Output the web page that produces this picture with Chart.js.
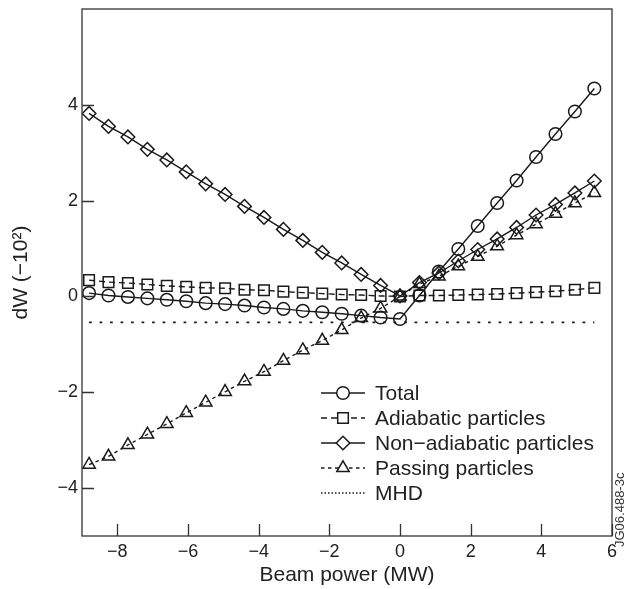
<!DOCTYPE html>
<html>
<head>
<meta charset="utf-8">
<script src="https://cdn.jsdelivr.net/npm/chart.js@4/dist/chart.umd.min.js"></script>
<style>
  html, body { margin: 0; padding: 0; background: #fff; }
  #wrap { width: 626px; height: 589px; }
</style>
</head>
<body>
<div id="wrap"><canvas id="dwChart" width="626" height="589"></canvas></div>
<script>
// Beam power values (MW)
const beamPower = [-8.8, -8.25, -7.7, -7.15, -6.6, -6.05, -5.5, -4.95, -4.4, -3.85, -3.3, -2.75, -2.2, -1.65, -1.1, -0.55, 0,
  0.55, 1.1, 1.65, 2.2, 2.75, 3.3, 3.85, 4.4, 4.95, 5.5];

// dW series (x 1e-2)
const total = [0.07, 0.02, -0.01, -0.04, -0.07, -0.10, -0.14, -0.16, -0.19, -0.23, -0.26, -0.30, -0.33, -0.36, -0.40, -0.44, -0.47,
  0.02, 0.52, 0.99, 1.47, 1.95, 2.42, 2.91, 3.39, 3.86, 4.34];
const adiabatic = [0.34, 0.30, 0.28, 0.25, 0.22, 0.20, 0.18, 0.17, 0.14, 0.13, 0.10, 0.08, 0.06, 0.04, 0.03, 0.01, 0,
  0.02, 0.02, 0.03, 0.04, 0.05, 0.07, 0.09, 0.11, 0.14, 0.18];
const nonAdiabatic = [3.82, 3.55, 3.33, 3.07, 2.85, 2.60, 2.35, 2.13, 1.88, 1.65, 1.40, 1.17, 0.92, 0.70, 0.46, 0.23, 0.01,
  0.29, 0.49, 0.74, 0.98, 1.20, 1.44, 1.70, 1.92, 2.16, 2.41];
const passing = [-3.51, -3.34, -3.10, -2.88, -2.66, -2.43, -2.21, -1.99, -1.77, -1.57, -1.34, -1.12, -0.92, -0.70, -0.45, -0.25, 0,
  0.26, 0.42, 0.63, 0.83, 1.05, 1.28, 1.51, 1.73, 1.95, 2.16];
const mhd = [-0.54, -0.54, -0.54, -0.54, -0.54, -0.54, -0.54, -0.54, -0.54, -0.54, -0.54, -0.54, -0.54, -0.54, -0.54, -0.54, -0.54,
  -0.54, -0.54, -0.54, -0.54, -0.54, -0.54, -0.54, -0.54, -0.54, -0.54];

const seriesNames = ['Total', 'Adiabatic particles', 'Non\u2212adiabatic particles', 'Passing particles', 'MHD'];

// Axis ticks
const xTicks = [-8, -6, -4, -2, 0, 2, 4, 6];
const yTicks = [-4, -2, 0, 2, 4];

const ink = '#1a1a1a';
const fontFamily = '"Liberation Sans", Arial, Helvetica, sans-serif';

function pts(ys) {
  return beamPower.map((x, i) => ({ x: x, y: ys[i] }));
}
function minusLabel(v) {
  return v < 0 ? '\u2212' + Math.abs(v) : String(v);
}

function makeSet(label, ys, style, dash, radius) {
  return {
    label: label,
    data: pts(ys),
    borderColor: ink,
    backgroundColor: 'rgba(0,0,0,0)',
    borderWidth: 1.4,
    borderDash: dash,
    pointStyle: style,
    pointRadius: radius,
    pointBorderWidth: 1.5,
    pointBorderColor: ink,
    pointBackgroundColor: 'rgba(0,0,0,0)',
    tension: 0
  };
}

// Frame + inward tick marks
const framePlugin = {
  id: 'frame',
  afterDraw(chart) {
    const ctx = chart.ctx;
    const a = chart.chartArea;
    const xs = chart.scales.x, ys = chart.scales.y;
    ctx.save();
    ctx.strokeStyle = '#333';
    ctx.lineWidth = 1.3;
    ctx.strokeRect(a.left, a.top, a.right - a.left, a.bottom - a.top);
    ctx.beginPath();
    xTicks.forEach(v => {
      const px = Math.round(xs.getPixelForValue(v)) + 0.5;
      ctx.moveTo(px, a.bottom);
      ctx.lineTo(px, a.bottom - 12);
    });
    yTicks.forEach(v => {
      const py = Math.round(ys.getPixelForValue(v)) + 0.5;
      ctx.moveTo(a.left, py);
      ctx.lineTo(a.left + 12, py);
    });
    ctx.stroke();

    // figure id on the right
    ctx.fillStyle = '#333';
    ctx.font = '13px ' + fontFamily;
    ctx.translate(a.right + 8, a.bottom + 11);
    ctx.rotate(-Math.PI / 2);
    ctx.textAlign = 'left';
    ctx.textBaseline = 'middle';
    ctx.fillText('JG06.488-3c', 0, 0);
    ctx.restore();
  }
};

// Legend: line sample with marker in the middle
const legendPlugin = {
  id: 'lineLegend',
  afterDraw(chart) {
    const ctx = chart.ctx;
    const x0 = 321, x1 = 365, xm = 343, tx = 375;
    const dashes = [[], [6, 4], [], [3.5, 3.5], [1.5, 2]];
    ctx.save();
    chart.data.datasets.forEach((ds, i) => {
      const y = 393 + i * 25;
      ctx.strokeStyle = ink;
      ctx.lineWidth = 1.4;
      ctx.setLineDash(dashes[i]);
      ctx.beginPath();
      ctx.moveTo(x0, y);
      ctx.lineTo(x1, y);
      ctx.stroke();
      ctx.setLineDash([]);
      if (ds.pointRadius > 0) {
        ctx.fillStyle = '#fff';
        ctx.lineWidth = 1.5;
        Chart.helpers.drawPoint(ctx, {
          pointStyle: ds.pointStyle, radius: ds.pointRadius, rotation: 0, borderWidth: 1.5
        }, xm, y);
      }
      ctx.fillStyle = '#222';
      ctx.font = '21px ' + fontFamily;
      ctx.textAlign = 'left';
      ctx.textBaseline = 'middle';
      ctx.fillText(ds.label, tx, y + 1);
    });
    ctx.restore();
  }
};

const ctx = document.getElementById('dwChart').getContext('2d');
const dwChart = new Chart(ctx, {
  type: 'line',
  data: {
    datasets: [
      makeSet(seriesNames[0], total, 'circle', [], 6.3),
      makeSet(seriesNames[1], adiabatic, 'rect', [6, 4], 7.5),
      makeSet(seriesNames[2], nonAdiabatic, 'rectRot', [], 6.8),
      makeSet(seriesNames[3], passing, 'triangle', [3.5, 3.5], 7.2),
      Object.assign(makeSet(seriesNames[4], mhd, 'circle', [2.7, 7.8], 0), { borderWidth: 1.8 })
    ]
  },
  options: {
    responsive: false,
    animation: false,
    layout: { padding: { left: 0, right: 14, top: 7, bottom: 0 } },
    plugins: {
      legend: { display: false },
      tooltip: { enabled: false }
    },
    scales: {
      x: {
        type: 'linear',
        min: -9,
        max: 6,
        afterBuildTicks: s => { s.ticks = xTicks.map(v => ({ value: v })); },
        afterFit: s => { s.height = 53; s.paddingLeft = 0; s.paddingRight = 0; },
        grid: { display: false, drawTicks: false },
        border: { display: false },
        ticks: {
          padding: 5,
          color: '#222',
          font: { family: fontFamily, size: 18 },
          maxRotation: 0,
          callback: v => minusLabel(v)
        },
        title: {
          display: true,
          text: 'Beam power (MW)',
          color: '#222',
          font: { family: fontFamily, size: 21 },
          padding: { top: 0, bottom: 1 }
        }
      },
      y: {
        min: -5,
        max: 6,
        afterBuildTicks: s => { s.ticks = yTicks.map(v => ({ value: v })); },
        afterFit: s => { s.width = 82; s.paddingTop = 0; s.paddingBottom = 0; },
        grid: { display: false, drawTicks: false },
        border: { display: false },
        ticks: {
          padding: 4,
          color: '#222',
          font: { family: fontFamily, size: 18 },
          callback: v => minusLabel(v)
        },
        title: {
          display: true,
          text: 'dW (\u221210\u00b2)',
          color: '#222',
          font: { family: fontFamily, size: 21 },
          padding: { top: 9, bottom: 0 }
        }
      }
    }
  },
  plugins: [framePlugin, legendPlugin]
});
</script>
</body>
</html>
